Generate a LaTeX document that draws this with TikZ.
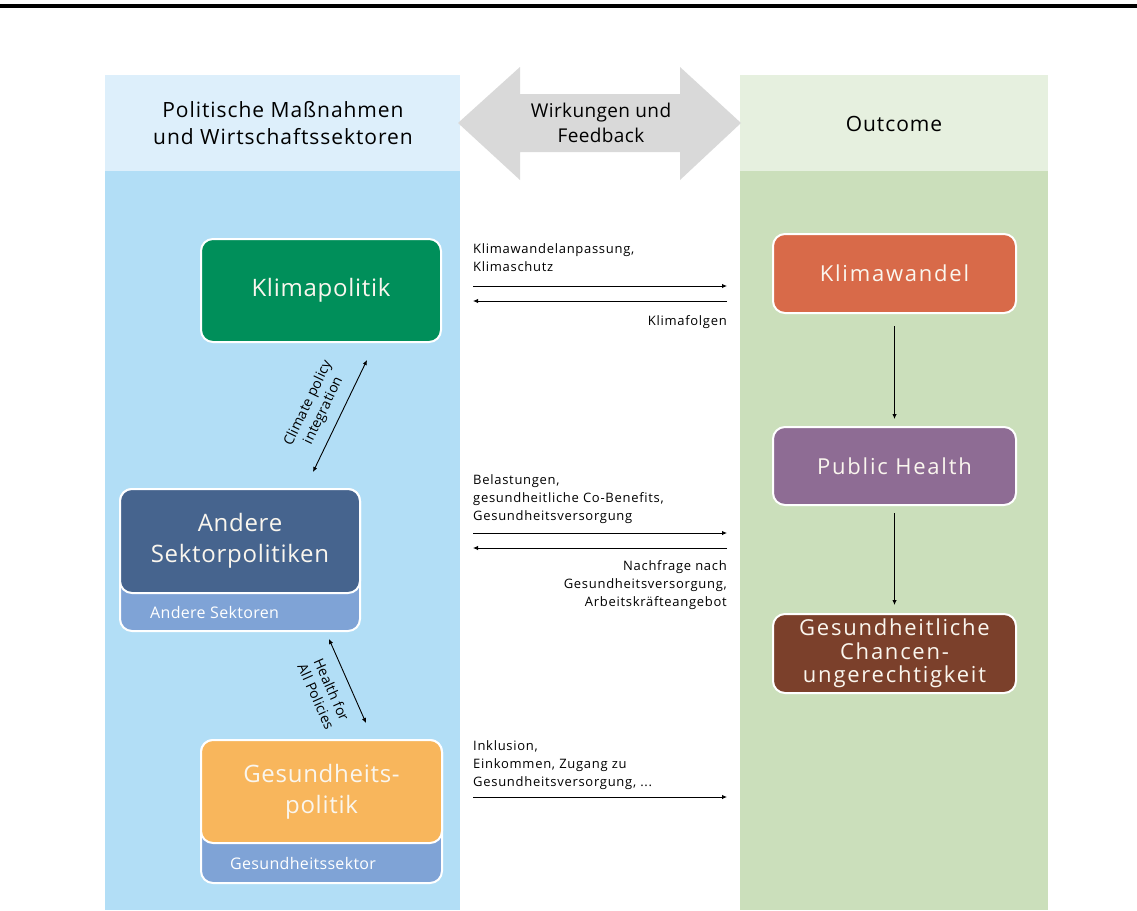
\documentclass[tikz,border=0pt]{standalone}
\usepackage{fontspec}
\setmainfont{Open Sans}[Ligatures=NoCommon]
\usetikzlibrary{arrows.meta}
\definecolor{hdblue}{RGB}{221,239,251}
\definecolor{bodyblue}{RGB}{178,222,246}
\definecolor{hdgreen}{RGB}{230,240,223}
\definecolor{bodygreen}{RGB}{203,223,187}
\definecolor{grayarrow}{RGB}{217,217,217}
\definecolor{kpgreen}{RGB}{0,143,90}
\definecolor{aspblue}{RGB}{70,100,142}
\definecolor{asblue}{RGB}{127,163,214}
\definecolor{gporange}{RGB}{248,182,92}
\definecolor{kwred}{RGB}{216,106,73}
\definecolor{phpurple}{RGB}{142,108,148}
\definecolor{gcbrown}{RGB}{123,64,43}
\definecolor{boxtext}{RGB}{250,246,238}
\tikzset{
  box/.style={draw=white, line width=2pt, rounded corners=12pt, text=boxtext, align=center, inner sep=0pt},
  bigtext/.style={font=\fontsize{24}{31}\selectfont\addfontfeatures{LetterSpace=3}},
  midtext/.style={font=\fontsize{22}{23.5}\selectfont\addfontfeatures{LetterSpace=8}},
  subtext/.style={text=white, font=\fontsize{16}{18}\selectfont\addfontfeatures{LetterSpace=2}, inner sep=0pt},
  lbl/.style={font=\fontsize{13}{18}\selectfont\addfontfeatures{LetterSpace=5.5}, inner sep=0pt},
  rlbl/.style={font=\fontsize{14}{17}\selectfont\addfontfeatures{LetterSpace=1}, inner sep=0pt, align=center},
  hdr/.style={font=\fontsize{21}{27}\selectfont\addfontfeatures{LetterSpace=4.5}, align=center, inner sep=0pt},
  arr/.style={line width=0.9pt, -{Latex[length=5pt,width=4.5pt]}},
  darr/.style={line width=0.9pt, {Latex[length=5pt,width=4.5pt]}-{Latex[length=5pt,width=4.5pt]}},
}
\begin{document}
\begin{tikzpicture}[x=1pt,y=-1pt]
\useasboundingbox (0,0) rectangle (1137,910);
\fill[white] (0,0) rectangle (1137,910);
% top rule
\fill[black] (0,4) rectangle (1137,7.5);
% columns
\fill[hdblue] (105,75) rectangle (460,171);
\fill[bodyblue] (105,171) rectangle (460,910);
\fill[hdgreen] (740,75) rectangle (1048,171);
\fill[bodygreen] (740,171) rectangle (1048,910);
% big double arrow
\fill[grayarrow] (458,123) -- (520,67) -- (520,94) -- (680,94) -- (680,67) -- (741,123)
  -- (680,180) -- (680,152) -- (520,152) -- (520,180) -- cycle;
\node[hdr] (hleft) at (283,123) {Politische Maßnahmen\\und Wirtschaftssektoren};
\node[hdr, font=\fontsize{19}{25}\selectfont\addfontfeatures{LetterSpace=2}] (hmid) at (601,123) {Wirkungen und\\Feedback};
\node[hdr] (hright) at (894,124) {Outcome};

% left boxes
\node[box, fill=kpgreen, minimum width=240pt, minimum height=103pt, bigtext] (kp) at (321,290.5) {Klimapolitik};

\node[box, fill=asblue, minimum width=240pt, minimum height=142pt] (asb) at (240,560) {};
\node[box, fill=aspblue, minimum width=240pt, minimum height=104pt, bigtext] (asp) at (240,541) {Andere\\Sektorpolitiken};
\node[subtext, anchor=west] (ast) at (150,612) {Andere Sektoren};

\node[box, fill=asblue, minimum width=241pt, minimum height=143pt] (gsb) at (321.5,811.5) {};
\node[box, fill=gporange, minimum width=241pt, minimum height=103pt, bigtext] (gp) at (321.5,791.5) {Gesundheits-\\politik};
\node[subtext, anchor=west] (gst) at (230,863) {Gesundheitssektor};

% right boxes
\node[box, fill=kwred, minimum width=243pt, minimum height=79pt, midtext] (kw) at (894.5,273.5) {Klimawandel};
\node[box, fill=phpurple, minimum width=243pt, minimum height=78pt, midtext] (ph) at (894.5,466) {Public Health};
\node[box, fill=gcbrown, minimum width=243pt, minimum height=79pt, midtext] (gc) at (894.5,653.5) {Gesundheitliche\\Chancen-\\ungerechtigkeit};

\draw[arr, shorten <=12pt, shorten >=7pt] (kw.south) -- (ph.north);
\draw[arr, shorten <=7pt, shorten >=8pt] (ph.south) -- (gc.north);

% diagonal arrows
\coordinate (c1a) at (313,472);
\coordinate (c1b) at (367,360);
\draw[darr] (c1a) -- (c1b);
\node[rlbl, rotate=64.3] (cpl) at (316,407) {Climate policy\\integration};
\coordinate (c2a) at (329,639);
\coordinate (c2b) at (366,723);
\draw[darr] (c2a) -- (c2b);
\node[rlbl, rotate=-66] (hfa) at (324,693) {Health for\\All Policies};

% horizontal arrows
\coordinate (r1a) at (473,286);  \coordinate (r1b) at (727,286);
\coordinate (l1a) at (727,301);  \coordinate (l1b) at (473,301);
\draw[arr] (r1a) -- (r1b);
\draw[arr] (l1a) -- (l1b);
\node[lbl, align=left, anchor=north west] (t1) at (473,243) {Klimawandelanpassung,\\Klimaschutz};
\node[lbl, align=right, anchor=north east] (t2) at (727,315.5) {Klimafolgen};

\coordinate (r2a) at (473,533);  \coordinate (r2b) at (727,533);
\coordinate (l2a) at (727,548);  \coordinate (l2b) at (473,548);
\draw[arr] (r2a) -- (r2b);
\draw[arr] (l2a) -- (l2b);
\node[lbl, align=left, anchor=north west] (t3) at (473,474) {Belastungen,\\gesundheitliche Co-Benefits,\\Gesundheitsversorgung};
\node[lbl, align=right, anchor=north east] (t4) at (727,560.5) {Nachfrage nach\\Gesundheitsversorgung,\\Arbeitskräfteangebot};

\coordinate (r3a) at (473,797);  \coordinate (r3b) at (727,797);
\draw[arr] (r3a) -- (r3b);
\node[lbl, align=left, anchor=north west] (t5) at (473,740.5) {Inklusion,\\Einkommen, Zugang zu\\Gesundheitsversorgung, ...};
\end{tikzpicture}
\end{document}
